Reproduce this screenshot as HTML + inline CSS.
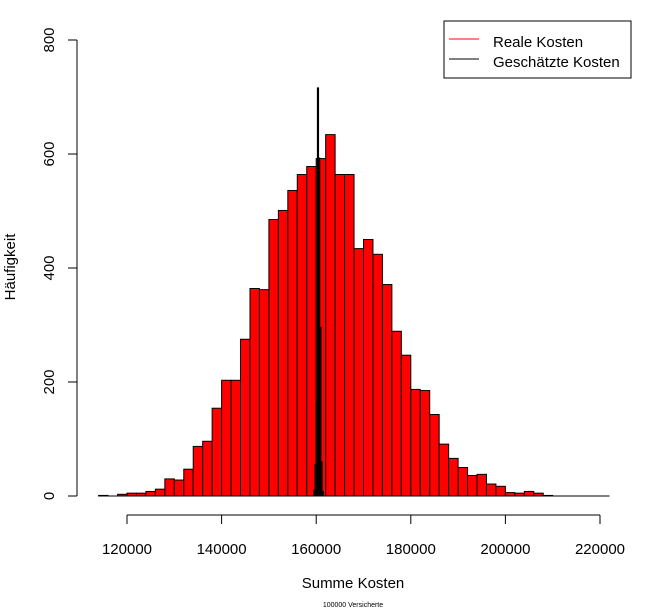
<!DOCTYPE html>
<html><head><meta charset="utf-8"><style>
html,body{margin:0;padding:0;background:#fff;}
svg{display:block;font-family:"Liberation Sans",Arial,sans-serif;}
</style></head><body>
<svg id="chart" width="666" height="611" viewBox="0 0 666 611" xmlns="http://www.w3.org/2000/svg">
<g id="bars-real"></g>
<g id="bars-est"></g>
<g id="axes"></g>
<text x="15" y="267" transform="rotate(-90 15 267)" text-anchor="middle" font-size="15" fill="#000">Häufigkeit</text>
<text x="353" y="588" text-anchor="middle" font-size="15" fill="#000">Summe Kosten</text>
<text x="353" y="607" text-anchor="middle" font-size="7" fill="#000">100000 Versicherte</text>
<g>
<rect x="444" y="21" width="187" height="57" fill="#fff" stroke="#000" stroke-width="1"/>
<line x1="449" y1="39" x2="479" y2="39" stroke="#f00" stroke-width="1"/>
<text x="493" y="47" font-size="15">Reale Kosten</text>
<line x1="449" y1="59" x2="479" y2="59" stroke="#000" stroke-width="1"/>
<text x="493" y="67" font-size="15">Geschätzte Kosten</text>
</g>
</svg>
<script>
const realStart = 114000;
const realBinWidth = 2000;
const realCounts = [1,0,3,5,5,8,12,30,28,47,87,96,154,203,203,275,364,362,485,501,536,564,578,592,634,564,564,434,450,424,371,289,247,187,185,143,91,66,50,36,38,21,17,6,5,8,5,1,0,0,0,0,0,0];
const estStarts = [159500,159750,160000,160250,160500,160750,161000,161250];
const estBinWidth = 250;
const estCounts = [10,55,165,716,593,296,60,8];
const xTicks = [120000,140000,160000,180000,200000,220000];
const yTicks = [0,200,400,600,800];

const NS="http://www.w3.org/2000/svg";
function X(v){return 127+(v-120000)*(473/100000);}
function Y(v){return 496-v*(456/800);}
function mk(tag,attrs,parent){const e=document.createElementNS(NS,tag);for(const k in attrs)e.setAttribute(k,attrs[k]);parent.appendChild(e);return e;}

const gR=document.getElementById('bars-real');
realCounts.forEach((c,i)=>{
  const x0=X(realStart+i*realBinWidth), x1=X(realStart+(i+1)*realBinWidth);
  const r=mk('rect',{x:x0,y:Y(c),width:x1-x0,height:Y(0)-Y(c),fill:'#f00',stroke:'#000','stroke-width':1},gR);
  
  
});
const base=mk('line',{x1:X(realStart),y1:Y(0),x2:X(realStart+realCounts.length*realBinWidth),y2:Y(0),stroke:'#000','stroke-width':1},gR);


const gE=document.getElementById('bars-est');
estCounts.forEach((c,i)=>{
  const x0=X(estStarts[i]), x1=X(estStarts[i]+estBinWidth);
  const r=mk('rect',{x:x0,y:Y(c),width:x1-x0,height:Y(0)-Y(c),fill:'#000',stroke:'#000','stroke-width':1},gE);
  
  
});
const gA=document.getElementById('axes');
const xl=mk('line',{x1:X(xTicks[0]),y1:515,x2:X(xTicks[xTicks.length-1]),y2:515,stroke:'#000'},gA);


xTicks.forEach(t=>{
  const l=mk('line',{x1:X(t),y1:515,x2:X(t),y2:524,stroke:'#000'},gA);
  
  
  const tx=mk('text',{x:X(t),y:554,'text-anchor':'middle','font-size':15},gA);
  tx.textContent=t;
  
  
});
const yl=mk('line',{x1:77,y1:Y(yTicks[0]),x2:77,y2:Y(yTicks[yTicks.length-1]),stroke:'#000'},gA);


yTicks.forEach(t=>{
  const l=mk('line',{x1:68,y1:Y(t),x2:77,y2:Y(t),stroke:'#000'},gA);
  
  
  const tx=mk('text',{x:54,y:Y(t),'text-anchor':'middle','font-size':15,transform:'rotate(-90 54 '+Y(t)+')'},gA);
  tx.textContent=t;
  
  
});
</script>
</body></html>
